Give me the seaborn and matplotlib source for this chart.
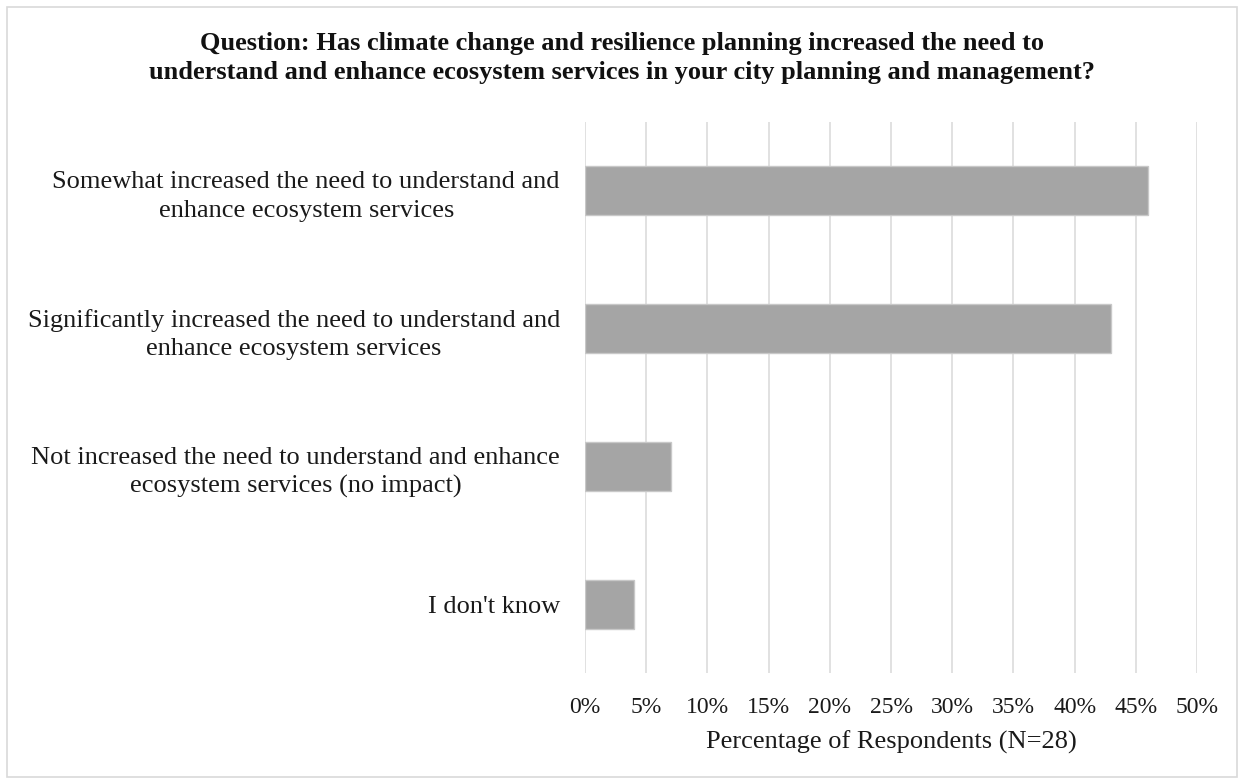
import matplotlib
matplotlib.use("Agg")
import matplotlib.pyplot as plt
import seaborn as sns
import pandas as pd
from matplotlib.patches import Rectangle
from matplotlib.ticker import PercentFormatter, MultipleLocator

# Survey responses, percent of respondents (N=28)
categories = [
    "Somewhat increased the need to understand and\nenhance ecosystem services",
    "Significantly increased the need to understand and\nenhance ecosystem services",
    "Not increased the need to understand and enhance\necosystem services (no impact)",
    "I don't know",
]
percentages = [46, 43, 7, 4]

title = ("Question: Has climate change and resilience planning increased the need to\n"
         "understand and enhance ecosystem services in your city planning and management?")
x_label = "Percentage of Respondents (N=28)"

sns.set_theme(style="white")
plt.rcParams['font.family'] = ['Liberation Serif', 'DejaVu Serif']

df = pd.DataFrame({'Response': categories, 'Percent': percentages})

fig = plt.figure(figsize=(12.44, 7.84), dpi=100)
ax = fig.add_axes([585 / 1244, 1 - 673 / 784, 612 / 1244, 551 / 784])

sns.barplot(data=df, x='Percent', y='Response', orient='h', color='#A5A5A5',
            saturation=1, width=0.356, edgecolor='#C8C8C8', linewidth=1, ax=ax)

ax.set_xlim(0, 50)
ax.xaxis.set_major_locator(MultipleLocator(5))
ax.xaxis.set_major_formatter(PercentFormatter(decimals=0))
ax.grid(axis='x', color='#D9D9D9', linewidth=1.1)
ax.set_axisbelow(True)
for s in ax.spines.values():
    s.set_visible(False)

ax.tick_params(axis='both', length=0, colors='#1a1a1a')
ax.tick_params(axis='x', labelsize=17, pad=17)
ax.tick_params(axis='y', labelsize=19, pad=18)
for t in ax.get_yticklabels():
    t.set_multialignment('center')
    t.set_linespacing(1.38)

ax.set_ylabel("")
ax.set_xlabel(x_label, fontsize=19, color='#1a1a1a', labelpad=9)

fig.text(0.5, 1 - 58 / 784, title, ha='center', va='center', fontsize=19,
         fontweight='bold', linespacing=1.38, color='#111111')

# light frame around the whole chart
fig.patches.append(Rectangle((7 / 1244, 7 / 784), 1 - 14 / 1244, 1 - 14 / 784,
                             transform=fig.transFigure, fill=False,
                             edgecolor='#D9D9D9', linewidth=1.2))

fig.savefig("out.png", dpi=100)
